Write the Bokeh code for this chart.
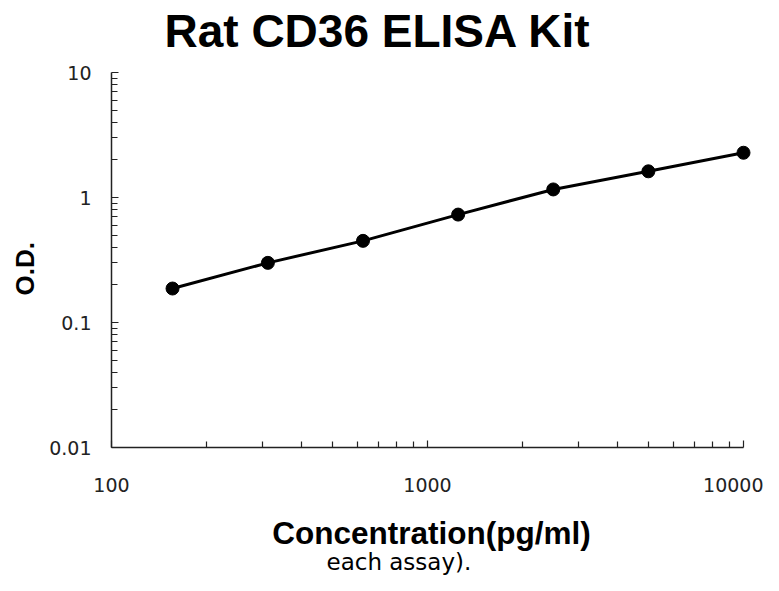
from bokeh.plotting import figure
from bokeh.models import FixedTicker, Title, ColumnDataSource
from bokeh.layouts import column
from bokeh.embed import file_html
from bokeh.resources import INLINE

# Data
concentration = [156, 312.5, 625, 1250, 2500, 5000, 10000]
od = [0.187, 0.30, 0.45, 0.73, 1.16, 1.62, 2.28]

x_ticks = [100, 1000, 10000]
x_tick_labels = ["100", "1000", "10000"]
y_ticks = [0.01, 0.1, 1, 10]
y_tick_labels = ["0.01", "0.1", "1", "10"]

title_text = "Rat CD36 ELISA Kit"
x_label = "Concentration(pg/ml)"
y_label = "O.D."
footer_text = "each assay)."

W = 763
TOP_H = 60
MAIN_H = 515

# --- title strip ---
t = figure(width=W, height=TOP_H, output_backend="svg", toolbar_location=None,
           min_border_left=110, min_border_right=12,
           min_border_top=0, min_border_bottom=0)
t.title.text = title_text
t.title.text_font = "Liberation Sans"
t.title.text_font_style = "bold"
t.title.text_font_size = "46px"
t.title.align = "left"
t.title.offset = 53
t.title.standoff = 4
t.title.text_color = "black"
t.axis.visible = False
t.grid.visible = False
t.outline_line_color = None
t.background_fill_color = "white"
t.border_fill_color = "white"

# --- main chart ---
p = figure(width=W, height=MAIN_H, x_axis_type="log", y_axis_type="log",
           x_range=(100, 10600), y_range=(0.01, 10), title=None,
           output_backend="svg", toolbar_location=None,
           min_border_left=110, min_border_right=12,
           min_border_top=12, min_border_bottom=128)

minor_x = [k * 10 ** e for e in (2, 3) for k in range(2, 10)]
minor_y = [k * 10 ** e for e in (-2, -1, 0) for k in range(2, 10)]
p.xaxis.ticker = FixedTicker(ticks=x_ticks, minor_ticks=minor_x)
p.yaxis.ticker = FixedTicker(ticks=y_ticks, minor_ticks=minor_y)
p.xaxis.major_label_overrides = {t_: l for t_, l in zip(x_ticks, x_tick_labels)}
p.yaxis.major_label_overrides = {t_: l for t_, l in zip(y_ticks, y_tick_labels)}
p.xaxis.bounds = (x_ticks[0], x_ticks[-1])

for ax in (p.xaxis, p.yaxis):
    ax.axis_line_width = 1.5
    ax.axis_line_color = "#222222"
    ax.major_tick_line_color = "#222222"
    ax.minor_tick_line_color = "#222222"
    ax.major_tick_line_width = 1.2
    ax.minor_tick_line_width = 1.2
    ax.major_tick_in = 7
    ax.major_tick_out = 0
    ax.minor_tick_in = 6
    ax.minor_tick_out = 0
    ax.major_label_text_font = "DejaVu Sans"
    ax.major_label_text_font_size = "19px"
    ax.major_label_text_color = "#222222"

p.xaxis.axis_label = x_label
p.xaxis.axis_label_text_font = "Liberation Sans"
p.xaxis.axis_label_text_font_style = "bold"
p.xaxis.axis_label_text_color = "black"
p.xaxis.axis_label_text_font_size = "31.5px"
p.xaxis.major_label_standoff = 30
p.xaxis.axis_label_standoff = 20

p.yaxis.major_label_standoff = 20

p.xgrid.visible = False
p.ygrid.visible = False
p.outline_line_color = None
p.background_fill_color = "white"
p.border_fill_color = "white"

ytitle = Title(text=y_label, align="left", offset=152, standoff=14,
               text_font="Liberation Sans", text_font_style="bold",
               text_font_size="26px", text_color="black")
p.add_layout(ytitle, "left")

footer = Title(text=footer_text, align="left", offset=215, standoff=-14,
               text_font="DejaVu Sans", text_font_style="normal",
               text_font_size="23px", text_color="black")
p.add_layout(footer, "below")

src = ColumnDataSource(dict(x=concentration, y=od))
p.line("x", "y", source=src, line_width=3, line_color="black")
p.scatter("x", "y", source=src, size=13, color="black")

layout = column(t, p, spacing=0)
open("out.html", "w").write(file_html(layout, INLINE))
